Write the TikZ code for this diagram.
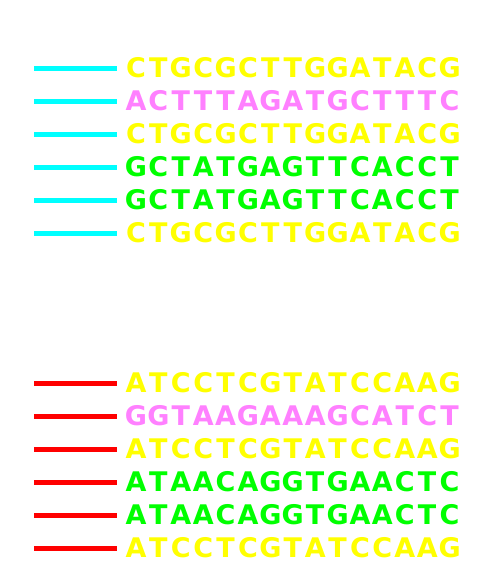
\documentclass[tikz,border=0pt]{standalone}
\usepackage{fontspec}
\setmainfont{DejaVu Sans}
\definecolor{seqyellow}{HTML}{FFFF00}
\definecolor{seqpink}{HTML}{FF80FF}
\definecolor{seqgreen}{HTML}{00FF00}
\definecolor{seqcyan}{HTML}{00FFFF}
\definecolor{seqred}{HTML}{FF0000}
\tikzset{
  seq/.style={anchor=base, inner sep=0pt, font=\fontsize{27}{27}\selectfont\bfseries},
  bar/.style={line width=5pt}
}
\newcommand{\seqrow}[4]{% name, baseline y, colour, letters (macro)
  \foreach \ch [count=\k from 0] in #4{
    \node[seq,text=#3] (#1-\k) at ({136+22.4*\k},#2) {\ch};
  }
}
\begin{document}
\begin{tikzpicture}[x=1pt,y=-1pt]
\useasboundingbox (0,0) rectangle (498,563);
\foreach \i/\s/\c in {0/{C,T,G,C,G,C,T,T,G,G,A,T,A,C,G}/seqyellow,1/{A,C,T,T,T,A,G,A,T,G,C,T,T,T,C}/seqpink,2/{C,T,G,C,G,C,T,T,G,G,A,T,A,C,G}/seqyellow,3/{G,C,T,A,T,G,A,G,T,T,C,A,C,C,T}/seqgreen,4/{G,C,T,A,T,G,A,G,T,T,C,A,C,C,T}/seqgreen,5/{C,T,G,C,G,C,T,T,G,G,A,T,A,C,G}/seqyellow}{
  \coordinate (ca\i) at (34,{68+33*\i});
  \coordinate (cb\i) at (117,{68+33*\i});
  \draw[bar,seqcyan] (ca\i) -- (cb\i);
  \seqrow{ct\i}{77.5+33*\i}{\c}{\s}
}
\foreach \i/\s/\c in {0/{A,T,C,C,T,C,G,T,A,T,C,C,A,A,G}/seqyellow,1/{G,G,T,A,A,G,A,A,A,G,C,A,T,C,T}/seqpink,2/{A,T,C,C,T,C,G,T,A,T,C,C,A,A,G}/seqyellow,3/{A,T,A,A,C,A,G,G,T,G,A,A,C,T,C}/seqgreen,4/{A,T,A,A,C,A,G,G,T,G,A,A,C,T,C}/seqgreen,5/{A,T,C,C,T,C,G,T,A,T,C,C,A,A,G}/seqyellow}{
  \coordinate (ra\i) at (34,{383+33*\i});
  \coordinate (rb\i) at (117,{383+33*\i});
  \draw[bar,seqred] (ra\i) -- (rb\i);
  \seqrow{rt\i}{392.5+33*\i}{\c}{\s}
}
\end{tikzpicture}
\end{document}
